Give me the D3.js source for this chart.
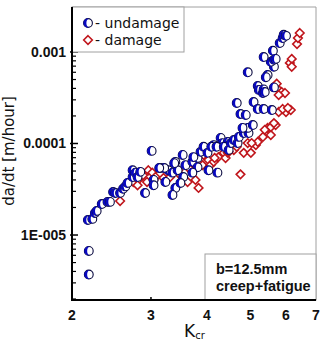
<!DOCTYPE html>
<html>
<head>
<meta charset="utf-8">
<script src="https://cdn.jsdelivr.net/npm/d3@7"></script>
<style>
  body { margin: 0; background: #fff; }
  svg { display: block; }
</style>
</head>
<body>
<svg class="chart" width="322" height="343"></svg>
<script>
// undamage series: [K_cr, da/dt]
const undamageK = [2.18, 2.18, 2.17, 2.22, 2.25, 2.27, 2.33, 2.40, 2.43, 2.47, 2.50, 2.56, 2.60, 2.63, 2.66,
  2.73, 2.73, 2.77, 2.80, 2.84, 2.91, 3.01, 3.04, 3.15, 3.04, 3.23, 3.28, 3.35, 3.40, 3.44, 3.53, 3.58,
  3.71, 3.81, 3.87, 3.93, 4.01, 4.14, 4.29, 4.33, 4.45, 3.81, 3.71, 3.54, 3.40, 3.35, 3.49, 4.22, 4.03,
  3.21, 3.38, 3.73, 4.09, 4.20, 4.36, 4.47, 4.52, 4.59, 4.68, 4.71, 4.83, 4.95, 4.93, 5.06, 4.80, 4.75,
  4.88, 4.66, 5.08, 5.19, 5.35, 5.58, 5.19, 5.22, 5.33, 5.35, 5.64, 4.93, 5.46, 5.41, 5.64, 5.55, 5.64,
  5.35, 5.61, 5.81, 5.90, 5.93, 6.00, 5.38, 5.69, 3.13];
const undamageRate = [3.7e-6, 6.7e-6, 1.46e-5, 1.5e-5, 1.74e-5, 1.83e-5, 2.18e-5, 2.3e-5, 2.3e-5, 2.95e-5,
  2.88e-5, 2.88e-5, 3.2e-5, 3.4e-5, 3.7e-5, 4.3e-5, 5.1e-5, 4.8e-5, 4.3e-5, 4.9e-5, 2.88e-5, 8.3e-5,
  4.0e-5, 5.4e-5, 3.5e-5, 3.8e-5, 5.1e-5, 4.8e-5, 6.3e-5, 5.1e-5, 7.5e-5, 5.8e-5, 6.3e-5, 6.95e-5, 8.1e-5,
  9.2e-5, 7.9e-5, 9.6e-5, 1.15e-4, 1.01e-4, 1.04e-4, 5.5e-5, 4.8e-5, 4.3e-5, 3.27e-5, 2.74e-5, 3.7e-5,
  4.8e-5, 5.1e-5, 5.4e-5, 6.1e-5, 7.1e-5, 9.2e-5, 9.2e-5, 9.2e-5, 8.5e-5, 1.01e-4, 1.09e-4, 1.01e-4,
  1.18e-4, 1.30e-4, 1.30e-4, 1.48e-4, 1.59e-4, 1.48e-4, 2.1e-4, 2.05e-4, 2.77e-4, 2.84e-4, 2.38e-4,
  2.38e-4, 2.32e-4, 4.25e-4, 3.85e-4, 3.56e-4, 3.9e-4, 4.1e-4, 6.0e-4, 5.6e-4, 5.3e-4, 6.9e-4, 7.8e-4,
  8.2e-4, 8.8e-4, 1.03e-3, 1.25e-3, 1.42e-3, 1.54e-3, 1.50e-3, 3.65e-4, 8.4e-4, 5.4e-5];

// damage series
const damageK = [2.56, 2.74, 2.81, 2.88, 2.96, 3.02, 3.07, 2.94, 2.80, 3.04, 3.20, 3.31, 3.49, 3.62, 3.73,
  3.77, 3.83, 3.91, 3.93, 4.03, 4.07, 4.14, 4.24, 4.36, 4.40, 4.45, 4.59, 4.83, 5.01, 4.93, 5.14, 5.19,
  5.33, 5.55, 5.46, 5.55, 5.69, 5.64, 4.75, 5.78, 6.00, 6.15, 5.90, 6.06, 5.78, 5.87, 5.97, 5.72, 5.78,
  6.12, 6.18, 6.18, 6.35, 6.38, 6.44, 4.16, 4.47, 4.66, 3.75, 3.64, 3.45, 5.38, 5.03];
const damageRate = [2.35e-5, 3.8e-5, 4.0e-5, 4.5e-5, 5.1e-5, 4.8e-5, 4.3e-5, 3.8e-5, 3.5e-5, 4.0e-5, 4.2e-5,
  4.3e-5, 4.5e-5, 3.8e-5, 5.1e-5, 4.0e-5, 3.27e-5, 5.8e-5, 7.5e-5, 6.6e-5, 5.8e-5, 6.3e-5, 7.1e-5, 7.9e-5,
  6.95e-5, 7.9e-5, 8.5e-5, 7.9e-5, 7.9e-5, 1.01e-4, 9.6e-5, 1.04e-4, 1.18e-4, 1.24e-4, 1.48e-4, 1.51e-4,
  1.59e-4, 1.67e-4, 4.6e-5, 2.21e-4, 2.21e-4, 2.32e-4, 2.38e-4, 2.44e-4, 3.85e-4, 3.65e-4, 3.56e-4, 4.5e-4,
  3.39e-4, 7.6e-4, 8.4e-4, 6.9e-4, 1.22e-3, 1.42e-3, 1.61e-3, 6.95e-5, 8.1e-5, 9.2e-5, 6.1e-5, 5.4e-5,
  5.1e-5, 1.41e-4, 1.01e-4];

const xTicks = [2, 3, 4, 5, 6, 7];
const yMajor = [1e-5, 1e-4, 1e-3];
const yLabels = ["1E-005", "0.0001", "0.001"];
const legendNames = ["- undamage", "- damage"];
const noteLines = ["b=12.5mm", "creep+fatigue"];

const svg = d3.select(".chart");
const plotL = 72, plotR = 316, plotT = 7, plotB = 300;

const x = d3.scaleLog().domain([2, 7]).range([plotL, plotR]);
const y = d3.scaleLog().domain([1.95e-6, 3.1e-3]).range([plotB, plotT]);

const blue = "#0808c0";
const red = "#c0161c";
const frameGray = "#a0a0a0";

// light frame top / right
svg.append("path")
  .attr("d", `M${plotL},${plotT}H${plotR}V${plotB}`)
  .attr("fill", "none")
  .attr("stroke", frameGray)
  .attr("stroke-width", 1);

// y minor ticks
const yMinor = [];
for (let e = -6; e <= -3; e++) {
  for (let m = 2; m <= 9; m++) {
    const v = m * Math.pow(10, e);
    if (v > y.domain()[0] && v < y.domain()[1]) yMinor.push(v);
  }
}
svg.append("g").selectAll("line").data(yMinor).join("line")
  .attr("x1", plotL).attr("x2", plotL + 4)
  .attr("y1", d => y(d)).attr("y2", d => y(d))
  .attr("stroke", "#000").attr("stroke-width", 1.2);

svg.append("g").selectAll("line").data(yMajor).join("line")
  .attr("x1", plotL - 2).attr("x2", plotL + 6)
  .attr("y1", d => y(d)).attr("y2", d => y(d))
  .attr("stroke", "#000").attr("stroke-width", 1.5);

svg.append("g").selectAll("text").data(yMajor).join("text")
  .attr("x", plotL - 6)
  .attr("y", d => y(d) + 5)
  .attr("text-anchor", "end")
  .attr("font-family", "Liberation Sans, Arial, sans-serif")
  .attr("font-weight", "bold")
  .attr("font-size", 14)
  .attr("fill", "#111")
  .text((d, i) => yLabels[i]);

// x ticks
svg.append("g").selectAll("line").data(xTicks.slice(1, -1)).join("line")
  .attr("x1", d => x(d)).attr("x2", d => x(d))
  .attr("y1", plotB).attr("y2", plotB - 3)
  .attr("stroke", "#000").attr("stroke-width", 1.5);

svg.append("g").selectAll("text").data(xTicks).join("text")
  .attr("x", d => x(d))
  .attr("y", 320)
  .attr("text-anchor", "middle")
  .attr("font-family", "Liberation Sans, Arial, sans-serif")
  .attr("font-weight", "bold")
  .attr("font-size", 14)
  .attr("fill", "#111")
  .text(d => d);

// annotation box
svg.append("rect")
  .attr("x", 205).attr("y", 254)
  .attr("width", plotR - 205).attr("height", plotB - 254)
  .attr("fill", "#fff")
  .attr("stroke", frameGray);
svg.append("g").selectAll("text").data(noteLines).join("text")
  .attr("x", 216)
  .attr("y", (d, i) => 274 + i * 17)
  .attr("font-family", "Liberation Sans, Arial, sans-serif")
  .attr("font-weight", "bold")
  .attr("font-size", 14.5)
  .attr("fill", "#111")
  .text(d => d);

// markers
const r = 4.4;
function halfCircle(g) {
  g.append("circle").attr("r", r)
    .attr("fill", "#fff").attr("stroke", "#0a0a40").attr("stroke-width", 1.1);
  g.append("path")
    .attr("d", `M0.8,${-r + 0.1}A${r},${r} 0 1 0 0.8,${r - 0.1}A${r * 0.7},${r} 0 0 1 0.8,${-r + 0.1}Z`)
    .attr("fill", blue);
}
const diamond = `M0,-4.3L4.3,0L0,4.3L-4.3,0Z`;

const undamage = undamageK.map((k, i) => [k, undamageRate[i]]);
const damage = damageK.map((k, i) => [k, damageRate[i]]);

svg.append("g").selectAll("path").data(damage).join("path")
  .attr("d", diamond)
  .attr("transform", d => `translate(${x(d[0])},${y(d[1])})`)
  .attr("fill", "#fff")
  .attr("stroke", red)
  .attr("stroke-width", 1.6);

svg.append("g").selectAll("g").data(undamage).join("g")
  .attr("transform", d => `translate(${x(d[0])},${y(d[1])})`)
  .each(function () { halfCircle(d3.select(this)); });

// legend
svg.append("rect")
  .attr("x", plotL).attr("y", plotT)
  .attr("width", 184 - plotL).attr("height", 52 - plotT)
  .attr("fill", "#fff")
  .attr("stroke", frameGray);
halfCircle(svg.append("g").attr("transform", "translate(88,23)"));
svg.append("path").attr("d", diamond)
  .attr("transform", "translate(88,40)")
  .attr("fill", "#fff").attr("stroke", red).attr("stroke-width", 1.6);
svg.append("g").selectAll("text").data(legendNames).join("text")
  .attr("x", 95)
  .attr("y", (d, i) => 28 + i * 17)
  .attr("font-family", "DejaVu Sans, sans-serif")
  .attr("font-size", 14)
  .attr("fill", "#111")
  .text(d => d);

// axes spines
svg.append("path")
  .attr("d", `M${plotL},${plotT}V${plotB}H${plotR}`)
  .attr("fill", "none")
  .attr("stroke", "#000")
  .attr("stroke-width", 2);

// axis titles
svg.append("text")
  .attr("transform", "translate(14,151) rotate(-90)")
  .attr("text-anchor", "middle")
  .attr("font-family", "DejaVu Sans, sans-serif")
  .attr("font-size", 15)
  .attr("fill", "#111")
  .text("da/dt [m/hour]");

const xt = svg.append("text")
  .attr("x", 184).attr("y", 337)
  .attr("font-family", "DejaVu Sans, sans-serif")
  .attr("font-size", 17)
  .attr("fill", "#111");
xt.append("tspan").text("K");
xt.append("tspan").attr("font-size", 10).attr("dy", 2).text("cr");
</script>
</body>
</html>
